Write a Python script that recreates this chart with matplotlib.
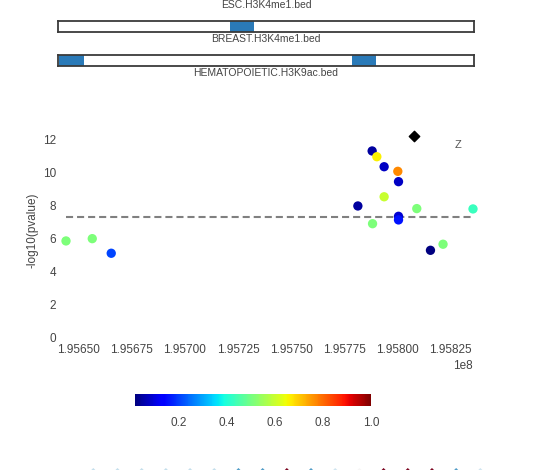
import matplotlib
matplotlib.use("Agg")
import matplotlib.pyplot as plt
import matplotlib.patches as patches
import numpy as np

plt.rcParams['font.family'] = ['Liberation Sans', 'DejaVu Sans']

# SNP positions, -log10(p) and r2 with lead SNP
positions = [195644230, 195656566, 195665478, 195788039, 195790244, 195793668,
             195800094, 195800422, 195793668, 195781332, 195809006, 195835413,
             195800422, 195800422, 195788227, 195821341, 195815432]
log_p = [5.85, 5.99, 5.10, 11.33, 10.98, 10.37,
         10.09, 9.46, 8.54, 7.98, 7.82, 7.80,
         7.35, 7.13, 6.90, 5.65, 5.28]
r2 = [0.51, 0.51, 0.21, 0.05, 0.66, 0.08,
      0.77, 0.08, 0.60, 0.05, 0.51, 0.43,
      0.09, 0.16, 0.51, 0.51, 0.02]
lead_pos = 195807598
lead_logp = 12.24
threshold = 7.3

# annotation tracks (genomic intervals)
track_range = (195640600, 195835700)
track_names = ["ESC.H3K4me1.bed", "BREAST.H3K4me1.bed", "HEMATOPOIETIC.H3K9ac.bed"]
breast_peaks = [(195721295, 195732552)]
hemato_peaks = [(195641229, 195652674), (195778518, 195789775)]

# LD between adjacent SNPs (bottom strip, cut off)
ld_adjacent = [0.38, 0.38, 0.38, 0.38, 0.38, 0.38, 0.22, 0.22, 0.97,
               0.22, 0.4, 0.5, 0.97, 0.97, 0.97, 0.22, 0.4]

W, H = 548, 470
fig = plt.figure(figsize=(W / 100, H / 100), dpi=100)
txt = '#444444'


def px_box(x0, y0, x1, y1):
    return [x0 / W, 1 - y1 / H, (x1 - x0) / W, (y1 - y0) / H]


# tracks
fig.text(266 / W, 1 - 5 / H, track_names[0], ha='center', va='center', fontsize=7.5, color=txt)
for (y0, y1), peaks, label, ly in [((20.7, 31.7), breast_peaks, track_names[1], 39.3),
                                  ((55, 66), hemato_peaks, track_names[2], 73.5)]:
    tax = fig.add_axes(px_box(58, y0, 474, y1))
    tax.set_xlim(*track_range)
    tax.set_ylim(0, 1)
    for s, e in peaks:
        tax.add_patch(patches.Rectangle((s, 0), e - s, 1, color='#2a7ab8', lw=0))
    tax.set_xticks([])
    tax.set_yticks([])
    for sp in tax.spines.values():
        sp.set_color('#3a3a3a')
        sp.set_linewidth(1.3)
    fig.text(266 / W, 1 - ly / H, label, ha='center', va='center', fontsize=7.5, color=txt)

# main plot
all_pos = positions + [lead_pos]
ax = fig.add_axes(px_box(66, 337 - 13 * 16.42, 473, 337))
ax.set_xlim(min(all_pos), max(all_pos))
ax.set_ylim(0, 13)
ax.plot([min(all_pos), max(all_pos)], [threshold, threshold], '--',
        color='#808080', lw=1.5, dashes=(3.4, 1.9), zorder=1)
sc = ax.scatter(positions, log_p, c=r2, cmap='jet', vmin=min(r2), vmax=1.0,
                s=45, edgecolors='none', zorder=2, clip_on=False)
ax.scatter([lead_pos], [lead_logp], marker='D', color='black', s=28, zorder=3, clip_on=False)
ax.text(0.963, 11.7 / 13, 'Z', transform=ax.transAxes, ha='center', va='center',
        fontsize=8, color='#555555')
ax.set_yticks(range(0, 13, 2))
ax.set_xticks(np.arange(195650000, 195835000, 25000))
ax.ticklabel_format(axis='x', style='sci', scilimits=(0, 0), useOffset=False)
ax.tick_params(length=0, labelsize=8.5, labelcolor=txt)
ax.tick_params(axis='y', pad=7)
ax.tick_params(axis='x', pad=5)
ax.xaxis.get_offset_text().set_fontsize(8.5)
ax.xaxis.get_offset_text().set_color(txt)
ax.set_ylabel('-log10(pvalue)', fontsize=8.5, color=txt, labelpad=3)
for sp in ax.spines.values():
    sp.set_visible(False)

# colorbar
cax = fig.add_axes(px_box(135, 394, 371, 406))
cb = fig.colorbar(sc, cax=cax, orientation='horizontal', ticks=[0.2, 0.4, 0.6, 0.8, 1.0])
cb.outline.set_linewidth(0)
cax.tick_params(length=0, labelsize=8.5, labelcolor=txt, pad=8)

# LD strip, mostly below the figure edge
lax = fig.add_axes([0, 0, 1, 20 / H])
lax.set_xlim(-93.3 / 24.19, (W - 93.3) / 24.19)
lax.set_ylim(0, 20)
lax.axis('off')
lax.scatter(np.arange(len(ld_adjacent)), np.full(len(ld_adjacent), -10.0), c=ld_adjacent,
            cmap='RdBu_r', vmin=0, vmax=1, marker='D', s=150, edgecolors='none', clip_on=False)

fig.savefig('out.png', dpi=100)
